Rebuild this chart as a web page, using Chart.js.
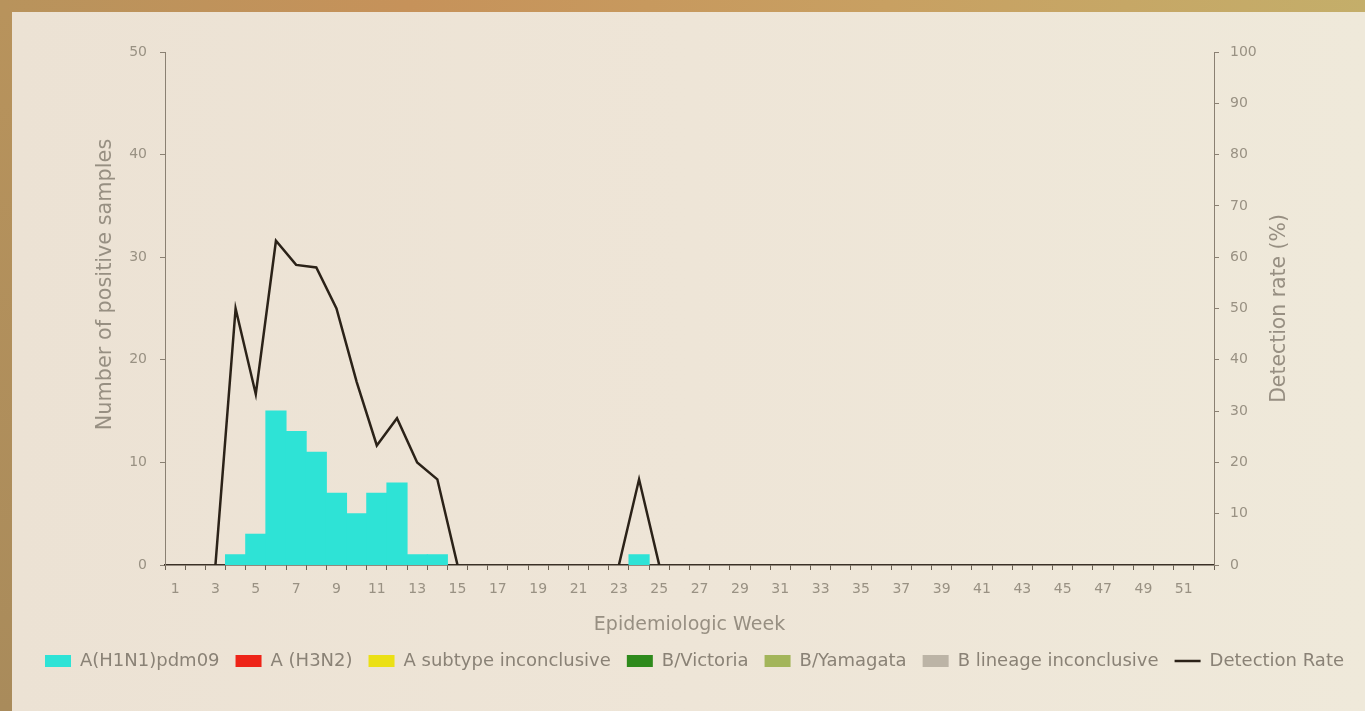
<!DOCTYPE html>
<html>
<head>
<meta charset="utf-8">
<script src="https://cdn.jsdelivr.net/npm/chart.js@4.4.0/dist/chart.umd.min.js"></script>
<style>
  html, body { margin: 0; padding: 0; width: 1365px; height: 711px; overflow: hidden; }
  body { background: linear-gradient(90deg, #b8935c 0%, #c6925a 30%, #c8a062 65%, #c4ae6a 100%); position: relative; }
  #panel {
    position: absolute; left: 12px; top: 12px; right: 0; bottom: 0;
    background: linear-gradient(90deg, #ece2d4 0%, #eee5d7 50%, #efe9da 100%);
  }
  #leftedge { position: absolute; left: 0; top: 12px; width: 12px; bottom: 0;
    background: linear-gradient(180deg, #b8935c 0%, #a98b5b 100%); }
  #wrap { position: absolute; left: 0; top: 0; width: 1365px; height: 711px; }
</style>
</head>
<body>
<div id="leftedge"></div>
<div id="panel"></div>
<div id="wrap"><canvas id="chart"></canvas></div>
<script>
// epidemiologic weeks 1..52
var weeks = ['1','2','3','4','5','6','7','8','9','10','11','12','13','14','15','16','17','18','19','20',
  '21','22','23','24','25','26','27','28','29','30','31','32','33','34','35','36','37','38','39','40',
  '41','42','43','44','45','46','47','48','49','50','51','52'];

// positive samples per week
var h1n1 = [0,0,0,1,3,15,13,11,7,5,7,8,1,1,0,0,0,0,0,0,0,0,0,1,0,0,0,0,0,0,0,0,0,0,0,0,0,0,0,0,0,0,0,0,0,0,0,0,0,0,0,0];
var h3n2 = [0,0,0,0,0,0,0,0,0,0,0,0,0,0,0,0,0,0,0,0,0,0,0,0,0,0,0,0,0,0,0,0,0,0,0,0,0,0,0,0,0,0,0,0,0,0,0,0,0,0,0,0];
var aInconclusive = [0,0,0,0,0,0,0,0,0,0,0,0,0,0,0,0,0,0,0,0,0,0,0,0,0,0,0,0,0,0,0,0,0,0,0,0,0,0,0,0,0,0,0,0,0,0,0,0,0,0,0,0];
var bVictoria = [0,0,0,0,0,0,0,0,0,0,0,0,0,0,0,0,0,0,0,0,0,0,0,0,0,0,0,0,0,0,0,0,0,0,0,0,0,0,0,0,0,0,0,0,0,0,0,0,0,0,0,0];
var bYamagata = [0,0,0,0,0,0,0,0,0,0,0,0,0,0,0,0,0,0,0,0,0,0,0,0,0,0,0,0,0,0,0,0,0,0,0,0,0,0,0,0,0,0,0,0,0,0,0,0,0,0,0,0];
var bInconclusive = [0,0,0,0,0,0,0,0,0,0,0,0,0,0,0,0,0,0,0,0,0,0,0,0,0,0,0,0,0,0,0,0,0,0,0,0,0,0,0,0,0,0,0,0,0,0,0,0,0,0,0,0];

// detection rate (%), gaps where nothing was drawn
var detectionRate = [null,null,0,50,33.3,63.2,58.5,58,50,35.7,23.3,28.6,20,16.7,0,
  null,null,null,null,null,null,null,0,16.7,0,
  null,null,null,null,null,null,null,null,null,null,null,null,null,null,null,null,null,null,null,null,null,null,null,null,null,null,null];

var leftTicks = [0, 10, 20, 30, 40, 50];
var rightTicks = [0, 10, 20, 30, 40, 50, 60, 70, 80, 90, 100];

var FONT = "'DejaVu Sans', sans-serif";
var tickColor = '#999183';
var titleColor = '#978f82';

// axis titles drawn rotated bottom-to-top on both sides
var sideTitles = {
  id: 'sideTitles',
  afterDraw: function(chart) {
    var ctx = chart.ctx, a = chart.chartArea;
    ctx.save();
    ctx.fillStyle = titleColor;
    ctx.font = '20.8px ' + FONT;
    ctx.textAlign = 'center';
    ctx.textBaseline = 'middle';
    ctx.translate(a.left - 59, 284.5 - 52 + a.top);
    ctx.rotate(-Math.PI / 2);
    ctx.fillText('Number of positive samples', 0, 0);
    ctx.restore();
    ctx.save();
    ctx.fillStyle = titleColor;
    ctx.font = '20.4px ' + FONT;
    ctx.textAlign = 'center';
    ctx.textBaseline = 'middle';
    ctx.translate(a.right + 66, (a.top + a.bottom) / 2);
    ctx.rotate(-Math.PI / 2);
    ctx.fillText('Detection rate (%)', 0, 0);
    ctx.restore();
  }
};

// only grow bars that have a height, so empty weeks leave no hairline
function inflate(c) { return c.raw > 0 ? 0.5 : 0; }

function bar(label, data, color) {
  return { type: 'bar', label: label, data: data, backgroundColor: color, borderWidth: 0,
    inflateAmount: inflate, yAxisID: 'y', barPercentage: 1, categoryPercentage: 1, pointStyle: 'rect', order: 2 };
}

new Chart(document.getElementById('chart'), {
  data: {
    labels: weeks,
    datasets: [
      bar('A(H1N1)pdm09', h1n1, '#2ee3d6'),
      bar('A (H3N2)', h3n2, '#ee2418'),
      bar('A subtype inconclusive', aInconclusive, '#ebe015'),
      bar('B/Victoria', bVictoria, '#2e8a1c'),
      bar('B/Yamagata', bYamagata, '#a3b55a'),
      bar('B lineage inconclusive', bInconclusive, '#bcb4a6'),
      { type: 'line', label: 'Detection Rate', data: detectionRate, yAxisID: 'y1',
        borderColor: '#2b2218', backgroundColor: '#2b2218', borderWidth: 2.5,
        pointRadius: 0, tension: 0, spanGaps: false, pointStyle: 'line', order: 1 }
    ]
  },
  options: {
    responsive: true,
    maintainAspectRatio: false,
    animation: false,
    layout: { padding: { left: 24, right: 0, top: 52, bottom: 31 } },
    plugins: {
      tooltip: { enabled: false },
      legend: {
        position: 'bottom',
        labels: {
          usePointStyle: true, pointStyleWidth: 26, boxHeight: 12, padding: 16,
          color: '#8a8276', font: { family: FONT, size: 18 },
          sort: function(a, b) { return a.datasetIndex - b.datasetIndex; }
        }
      }
    },
    scales: {
      x: {
        stacked: true,
        afterFit: function(s) { s.height = 71; },
        grid: { display: true, drawOnChartArea: false, offset: true, tickLength: 5, color: '#6a6052' },
        border: { color: '#3a3026', width: 1.5 },
        ticks: {
          autoSkip: false, maxRotation: 0, padding: 11, color: tickColor,
          font: { family: FONT, size: 14 },
          callback: function(v, i) { return i % 2 === 0 ? weeks[i] : ''; }
        },
        title: { display: true, text: 'Epidemiologic Week', color: titleColor,
          font: { family: FONT, size: 19 }, padding: { top: 0, bottom: 0 } }
      },
      y: {
        stacked: true, position: 'left', min: 0, max: 50,
        afterFit: function(s) { s.width = 141; },
        afterBuildTicks: function(s) { s.ticks = leftTicks.map(function(v) { return { value: v }; }); },
        grid: { drawOnChartArea: false, tickLength: 5, color: '#8a8072' },
        border: { color: '#8a8072', width: 1 },
        ticks: { padding: 13, color: tickColor, font: { family: FONT, size: 14 } }
      },
      y1: {
        position: 'right', min: 0, max: 100,
        afterFit: function(s) { s.width = 151; },
        afterBuildTicks: function(s) { s.ticks = rightTicks.map(function(v) { return { value: v }; }); },
        grid: { drawOnChartArea: false, tickLength: 5, color: '#8a8072' },
        border: { color: '#8a8072', width: 1 },
        ticks: { padding: 11, color: tickColor, font: { family: FONT, size: 14 } }
      }
    }
  },
  plugins: [sideTitles]
});
</script>
</body>
</html>
